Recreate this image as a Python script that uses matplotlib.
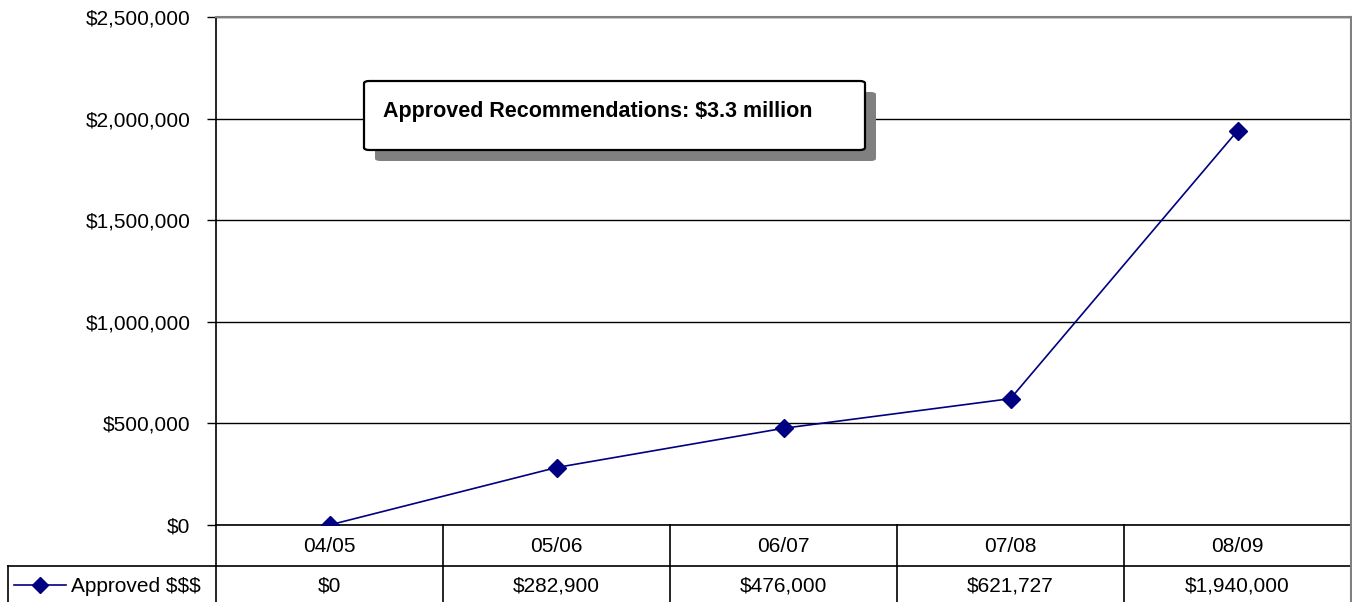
import matplotlib.pyplot as plt
from matplotlib.patches import FancyBboxPatch
from matplotlib.lines import Line2D
from matplotlib.ticker import FuncFormatter

plt.rcParams['font.family'] = ['Liberation Sans', 'DejaVu Sans']

years = ['04/05', '05/06', '06/07', '07/08', '08/09']
approved = [0, 282900, 476000, 621727, 1940000]
series_name = 'Approved $$$'
note = 'Approved Recommendations: $3.3 million'
navy = '#000080'
fs = 15

W, H = 1352, 602
fig = plt.figure(figsize=(W / 100, H / 100), dpi=100)

# plot area in pixels
x0, x1, ytop, ybot = 216, 1351, 17, 525
ax = fig.add_axes([x0 / W, 1 - ybot / H, (x1 - x0) / W, (ybot - ytop) / H])

xs = range(len(years))
ax.plot(xs, approved, color=navy, lw=1.2, marker='D', ms=9, mfc=navy, mec=navy, zorder=3)
ax.set_xlim(-0.5, len(years) - 0.5)
ax.set_ylim(0, 2500000)
ax.set_yticks(range(0, 2500001, 500000))
ax.yaxis.set_major_formatter(FuncFormatter(lambda v, p: '${:,.0f}'.format(v)))
ax.tick_params(axis='y', labelsize=fs, length=6.5, width=1, pad=12, colors='black')
ax.set_xticks([])
ax.grid(axis='y', color='black', lw=1)
ax.set_axisbelow(True)
for s in ['top', 'right']:
    ax.spines[s].set_color('#808080')
    ax.spines[s].set_linewidth(1.5)
ax.spines['left'].set_linewidth(1.2)
ax.spines['bottom'].set_linewidth(1.2)

# annotation box with shadow
bx0, by0, bx1, by1 = 364, 81, 865, 150
off = 11
shadow = FancyBboxPatch(((bx0 + off) / W, 1 - (by1 + off) / H), (bx1 - bx0) / W, (by1 - by0) / H,
                        boxstyle='round,pad=0,rounding_size=0.004', transform=fig.transFigure,
                        fc='#808080', ec='none', zorder=5)
box = FancyBboxPatch((bx0 / W, 1 - by1 / H), (bx1 - bx0) / W, (by1 - by0) / H,
                     boxstyle='round,pad=0,rounding_size=0.004', transform=fig.transFigure,
                     fc='white', ec='black', lw=1.6, zorder=6)
fig.patches.extend([shadow, box])
fig.text(383 / W, 1 - 112 / H, note, fontsize=15.5, fontweight='bold', va='center', zorder=7)

# data table below the plot
r1, r2, r3 = 525, 566, 602
legx = 8
col_w = (x1 - x0) / len(years)


def fx(px):
    return px / W


def fy(py):
    return 1 - py / H


lines = []
lines.append(((fx(legx), fx(x1)), (fy(r2), fy(r2))))
lines.append(((fx(legx), fx(legx)), (fy(r2), fy(r3))))
for i in range(len(years) + 1):
    xp = x0 + i * col_w
    lines.append(((fx(xp), fx(xp)), (fy(r1), fy(r3))))
for (lx, ly) in lines:
    fig.add_artist(Line2D(lx, ly, color='black', lw=1.2))
fig.add_artist(Line2D((fx(x1), fx(x1)), (fy(r1), fy(r3)), color='#808080', lw=1.5))

for i, (yr, v) in enumerate(zip(years, approved)):
    cx = x0 + (i + 0.5) * col_w
    fig.text(fx(cx), fy((r1 + r2) / 2 + 1), yr, ha='center', va='center', fontsize=fs)
    fig.text(fx(cx), fy((r2 + r3) / 2 + 2), '${:,.0f}'.format(v), ha='center', va='center', fontsize=fs)

# legend key in table
ly = fy((r2 + r3) / 2 + 1)
fig.add_artist(Line2D((fx(14), fx(40), fx(66)), (ly, ly, ly), color=navy, lw=1.2, marker='D', ms=8.5,
                      markevery=[1], mfc=navy, mec=navy))
fig.text(fx(71), fy((r2 + r3) / 2 + 2), series_name, ha='left', va='center', fontsize=fs)

fig.savefig('out.png', dpi=100)
